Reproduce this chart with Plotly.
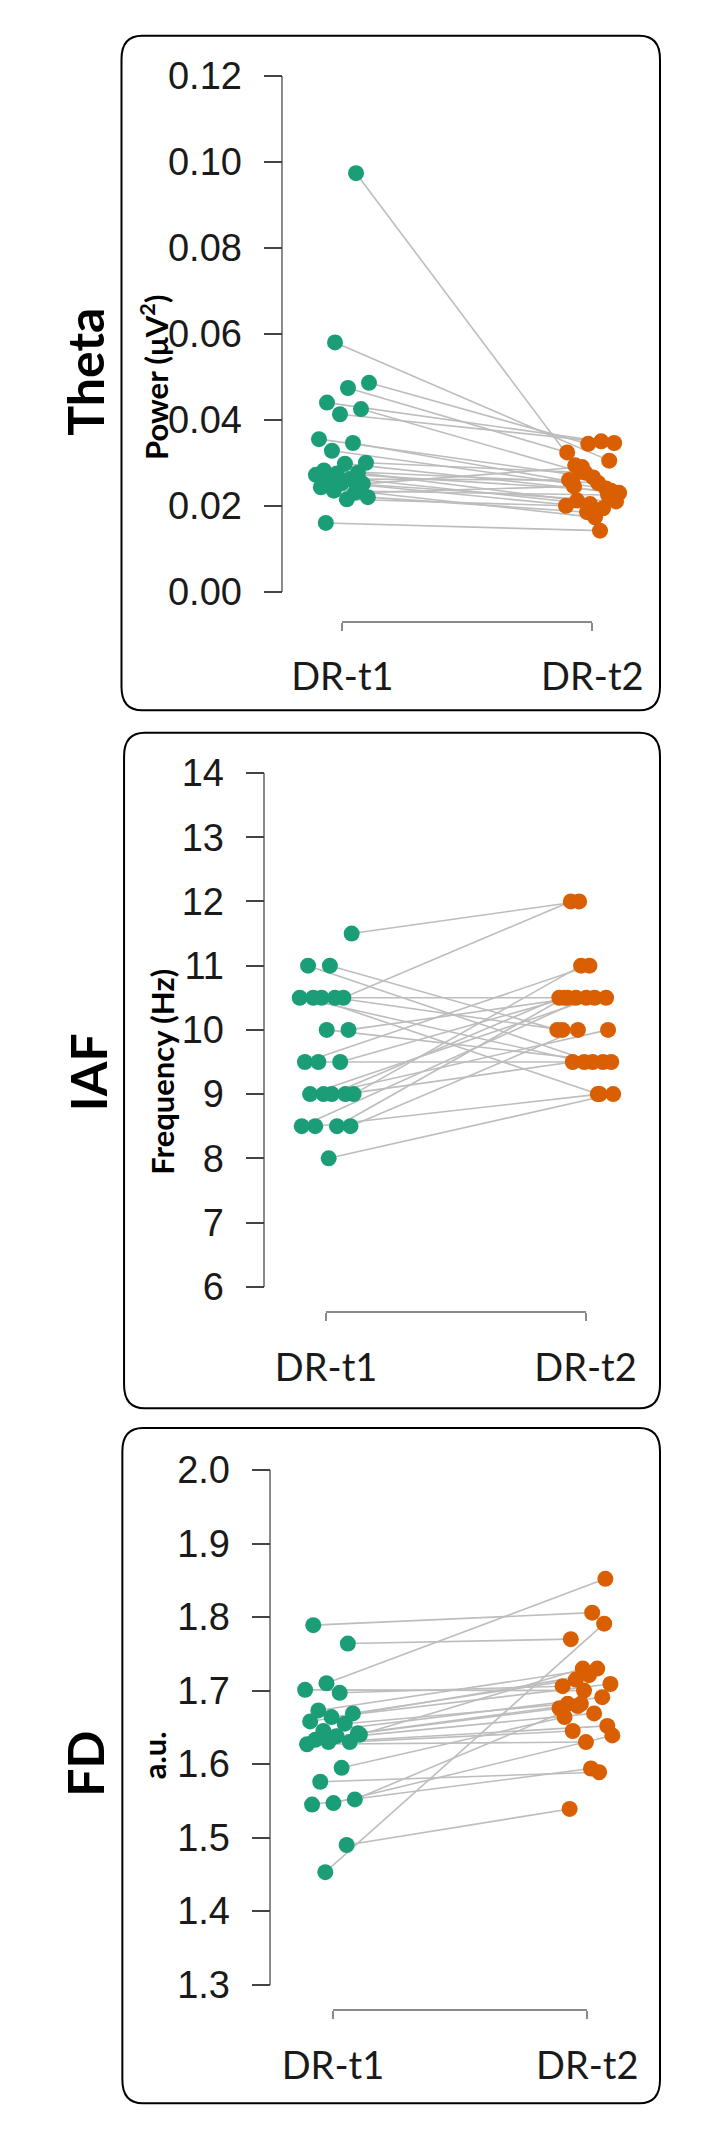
import plotly.graph_objects as go

# ---- data ----
GROUPS = ['DR-t1', 'DR-t2']
PANEL_LABELS = ['Theta', 'IAF', 'FD']
AXIS_TITLES = ['Power (μV<sup>2</sup>)', 'Frequency (Hz)', 'a.u.']

theta_t1 = [0.0974, 0.0580, 0.0486, 0.0474, 0.0440, 0.0425, 0.0413, 0.0355, 0.0346,
            0.0328, 0.0300, 0.0298, 0.0282, 0.0277, 0.0275, 0.0272, 0.0262, 0.0256,
            0.0251, 0.0253, 0.0243, 0.0230, 0.0235, 0.0220, 0.0215, 0.0160]
theta_t2 = [0.0294, 0.0305, 0.0344, 0.0324, 0.0350, 0.0279, 0.0346, 0.0266, 0.0256,
            0.0240, 0.0277, 0.0230, 0.0253, 0.0212, 0.0235, 0.0204, 0.0260, 0.0194,
            0.0290, 0.0210, 0.0173, 0.0245, 0.0225, 0.0185, 0.0200, 0.0142]

iaf_t1 = [11.5, 11.0, 11.0, 10.5, 10.5, 10.5, 10.5, 10.5, 10.0, 10.0, 9.5, 9.5,
          9.5, 9.0, 9.0, 9.0, 9.0, 9.0, 8.5, 8.5, 8.5, 8.5, 8.0]
iaf_t2 = [12.0, 10.0, 9.5, 12.0, 10.5, 9.5, 10.0, 9.0, 10.5, 9.5, 11.0, 10.5,
          9.5, 11.0, 10.5, 10.5, 9.5, 10.0, 10.5, 10.5, 9.0, 10.0, 9.0]

fd_t1 = [1.789, 1.764, 1.710, 1.701, 1.697, 1.673, 1.669, 1.664, 1.658, 1.655,
         1.645, 1.642, 1.638, 1.633, 1.630, 1.630, 1.627, 1.595, 1.576, 1.552,
         1.547, 1.545, 1.490, 1.453, 1.640]
fd_t2 = [1.806, 1.770, 1.852, 1.700, 1.706, 1.730, 1.715, 1.709, 1.721, 1.682,
         1.691, 1.682, 1.676, 1.669, 1.645, 1.652, 1.630, 1.664, 1.589, 1.679,
         1.639, 1.594, 1.539, 1.791, 1.730]

theta_range = [0.0, 0.12]
theta_ticks = [0.00, 0.02, 0.04, 0.06, 0.08, 0.10, 0.12]
iaf_range = [6, 14]
iaf_ticks = [6, 7, 8, 9, 10, 11, 12, 13, 14]
fd_range = [1.3, 2.0]
fd_ticks = [1.3, 1.4, 1.5, 1.6, 1.7, 1.8, 1.9, 2.0]

# ---- layout (pixels) ----
W, H = 709, 2131
GREEN = '#1b9e77'
ORANGE = '#d95f02'
LINE_GREY = '#bdbdbd'
AXIS_GREY = '#8a8a8a'
TICK_FONT = dict(family='Liberation Sans, Arial', size=38, color='#1a1a1a')
CAT_FONT = dict(family='Lato, Open Sans', size=38, color='#1a1a1a')

PANELS = [
    dict(t1=theta_t1, t2=theta_t2, rng=theta_range, ticks=theta_ticks, fmt='.2f',
         box=(73, 7, 702, 695), axis_x=262, y_top=48, y_bot=574,
         c1=331, c2=623, bracket=605, lab=(30, 350), tit=(111, 355)),
    dict(t1=iaf_t1, t2=iaf_t2, rng=iaf_range, ticks=iaf_ticks, fmt='d',
         box=(76, 718, 702, 1407), axis_x=241, y_top=759, y_bot=1283,
         c1=312, c2=615, bracket=1309, lab=(34, 1064), tit=(120, 1064)),
    dict(t1=fd_t1, t2=fd_t2, rng=fd_range, ticks=fd_ticks, fmt='.1f',
         box=(74, 1427, 702, 2116), axis_x=248, y_top=1470, y_bot=1995,
         c1=320, c2=617, bracket=2021, lab=(30, 1770), tit=(111, 1761)),
]

JITTER = 0.11


def px(x):
    return x / W


def py(y):
    return 1 - y / H


def spread(n, seed):
    # deterministic horizontal jitter (golden-ratio sequence)
    return [(((i + 1) * 0.6180339 + seed) % 1 - 0.5) * 2 * JITTER for i in range(n)]


def rounded_box(x0, y0, x1, y1, r=24):
    rx, ry = r / W, r / H
    a, b, c, d = px(x0), py(y1), px(x1), py(y0)
    return (f"M {a + rx},{b} L {c - rx},{b} Q {c},{b} {c},{b + ry} "
            f"L {c},{d - ry} Q {c},{d} {c - rx},{d} L {a + rx},{d} "
            f"Q {a},{d} {a},{d - ry} L {a},{b + ry} Q {a},{b} {a + rx},{b} Z")


fig = go.Figure()
layout = dict(width=W, height=H, margin=dict(l=0, r=0, t=0, b=0),
              plot_bgcolor='rgba(0,0,0,0)', paper_bgcolor='white', showlegend=False,
              shapes=[], annotations=[])

for k, p in enumerate(PANELS):
    n = k + 1
    xa, ya, xb = f'x{n}', f'y{n}', f'x{n + 3}'
    span = p['c2'] - p['c1']
    dom_right = p['box'][2] - 12
    lo = (p['axis_x'] - p['c1']) / span
    hi = (dom_right - p['c1']) / span

    j1 = spread(len(p['t1']), 0.13 + 0.2 * k)
    j2 = spread(len(p['t2']), 0.57 + 0.2 * k)
    x1 = [0 + j for j in j1]
    x2 = [1 + j for j in j2]

    lx, ly = [], []
    for a, b, va, vb in zip(x1, x2, p['t1'], p['t2']):
        lx += [a, b, None]
        ly += [va, vb, None]
    fig.add_trace(go.Scatter(x=lx, y=ly, mode='lines', xaxis=xa, yaxis=ya,
                             line=dict(color=LINE_GREY, width=1.6), hoverinfo='skip'))
    fig.add_trace(go.Scatter(x=x1, y=p['t1'], mode='markers', xaxis=xa, yaxis=ya,
                             marker=dict(color=GREEN, size=16, line=dict(width=0)),
                             name=GROUPS[0]))
    fig.add_trace(go.Scatter(x=x2, y=p['t2'], mode='markers', xaxis=xa, yaxis=ya,
                             marker=dict(color=ORANGE, size=16, line=dict(width=0)),
                             name=GROUPS[1]))
    # carrier for the bracket-style category axis
    fig.add_trace(go.Scatter(x=[0, 1], y=[None, None], mode='markers',
                             xaxis=xb, yaxis=ya, hoverinfo='skip'))

    layout['xaxis' if n == 1 else f'xaxis{n}'] = dict(
        domain=[px(p['axis_x']), px(dom_right)], range=[lo, hi], anchor=ya,
        visible=False, showgrid=False, zeroline=False)
    layout[f'yaxis{n}'] = dict(
        domain=[py(p['y_bot']), py(p['y_top'])], range=p['rng'], anchor=xa,
        tickvals=p['ticks'], tickformat=p['fmt'], ticks='outside', ticklen=18,
        tickwidth=1.5, tickcolor='#444444', showline=True, linecolor=AXIS_GREY,
        linewidth=1.5, showgrid=False, zeroline=False, tickfont=TICK_FONT,
        ticklabelstandoff=14)
    layout[f'xaxis{n + 3}'] = dict(
        domain=[px(p['c1']), px(p['c2'])], range=[0, 1], anchor='free',
        position=py(p['bracket']), tickvals=[0, 1], ticktext=GROUPS,
        ticks='outside', ticklen=8, tickwidth=1.5, tickcolor=AXIS_GREY,
        showline=True, linecolor=AXIS_GREY, linewidth=1.5, showgrid=False,
        zeroline=False, tickfont=CAT_FONT, ticklabelstandoff=14)

    layout['shapes'].append(dict(type='path', xref='paper', yref='paper',
                                 path=rounded_box(*p['box']),
                                 line=dict(color='black', width=2)))
    layout['annotations'].append(dict(
        text=f'<b>{PANEL_LABELS[k]}</b>', xref='paper', yref='paper',
        x=px(p['lab'][0]), y=py(p['lab'][1]), showarrow=False, textangle=-90,
        font=dict(family='Lato, Open Sans', size=50, color='black'),
        xanchor='center', yanchor='middle'))
    layout['annotations'].append(dict(
        text=f'<b>{AXIS_TITLES[k]}</b>', xref='paper', yref='paper',
        x=px(p['tit'][0]), y=py(p['tit'][1]), showarrow=False, textangle=-90,
        font=dict(family='Lato, Open Sans', size=31, color='black'),
        xanchor='center', yanchor='middle'))

fig.update_layout(**layout)
fig.write_html("out.html")
